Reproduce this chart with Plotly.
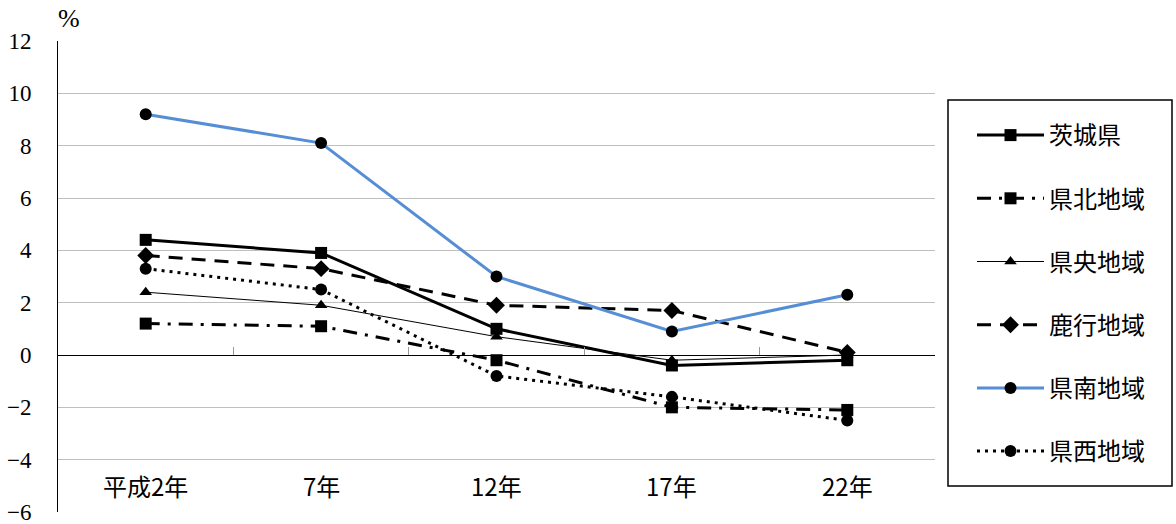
import plotly.graph_objects as go

categories = ["平成2年", "7年", "12年", "17年", "22年"]
series_names = ["茨城県", "県北地域", "県央地域", "鹿行地域", "県南地域", "県西地域"]
ibaraki = [4.4, 3.9, 1.0, -0.4, -0.2]
kenpoku = [1.2, 1.1, -0.2, -2.0, -2.1]
kenou = [2.4, 1.9, 0.7, -0.2, 0.0]
rokkou = [3.8, 3.3, 1.9, 1.7, 0.1]
kennan = [9.2, 8.1, 3.0, 0.9, 2.3]
kensei = [3.3, 2.5, -0.8, -1.6, -2.5]
y_ticks = [-6, -4, -2, 0, 2, 4, 6, 8, 10, 12]

values = [ibaraki, kenpoku, kenou, rokkou, kennan, kensei]
styles = [
    dict(color="black", width=3, dash="solid", symbol="square", size=12),
    dict(color="black", width=3, dash="14px,8px,3px,8px", symbol="square", size=12),
    dict(color="black", width=1, dash="solid", symbol="triangle-up", size=11),
    dict(color="black", width=3, dash="14px,9px", symbol="diamond", size=13),
    dict(color="#558ED5", width=3, dash="solid", symbol="circle", size=12),
    dict(color="black", width=3, dash="3px,5px", symbol="circle", size=12),
]

SERIF = "'Liberation Serif', 'DejaVu Serif', serif"
JP = "Noto Sans CJK JP"

xs = list(range(len(categories)))
fig = go.Figure()
for i, (name, vals, st) in enumerate(zip(series_names, values, styles)):
    fig.add_trace(go.Scatter(
        x=xs, y=vals, name=name, mode="lines+markers",
        legendgroup=f"g{i}",
        line=dict(color=st["color"], width=st["width"], dash=st["dash"]),
        marker=dict(symbol=st["symbol"], size=st["size"], color="black"),
    ))

# invisible trace for the crossing axis at y=0
fig.add_trace(go.Scatter(x=[None], y=[None], xaxis="x2", showlegend=False))

for i, c in enumerate(categories):
    fig.add_annotation(x=i, y=-5, xref="x", yref="y", text=c, showarrow=False,
                       font=dict(family=JP, size=24, color="black"))

fig.add_annotation(x=0, y=1.0, xref="paper", yref="paper", text="%", showarrow=False,
                   xanchor="left", yanchor="bottom", xshift=-2, yshift=6,
                   font=dict(family=SERIF, size=26, color="black"))

# legend frame
fig.add_shape(type="rect", xref="paper", yref="paper",
              x0=(948 - 58) / 877, x1=(1172 - 58) / 877,
              y0=(512 - 486) / 471, y1=(512 - 100) / 471,
              line=dict(color="black", width=1.5), fillcolor="rgba(0,0,0,0)")

fig.update_layout(
    width=1176, height=524,
    margin=dict(l=58, r=241, t=41, b=12, autoexpand=False),
    paper_bgcolor="white", plot_bgcolor="white",
    font=dict(family=SERIF, color="black"),
    xaxis=dict(range=[-0.5, 4.5], showticklabels=False, showgrid=False, zeroline=False,
               showline=False, ticks="", automargin=False),
    xaxis2=dict(range=[-0.5, 4.5], overlaying="x", anchor="free", position=1/3,
                tickmode="array", tickvals=[0.5, 1.5, 2.5, 3.5], ticks="inside",
                ticklen=8, tickcolor="#999999", showticklabels=False, showgrid=False,
                showline=True, linecolor="black", linewidth=1, zeroline=False,
                automargin=False),
    yaxis=dict(range=[-6, 12], tickmode="array", tickvals=y_ticks,
               showgrid=True, gridcolor="#BFBFBF", gridwidth=1,
               zeroline=False, showline=True, linecolor="black", linewidth=1,
               ticks="", ticklabelstandoff=21, ticklabeloverflow="allow",
               automargin=False,
               tickfont=dict(family=SERIF, size=23, color="black")),
    legend=dict(x=(972 - 58) / 877, y=(512 - 113) / 471, xanchor="left", yanchor="top",
                borderwidth=0, bgcolor="rgba(0,0,0,0)",
                font=dict(family=JP, size=24, color="black"),
                tracegroupgap=29, itemwidth=67),
    showlegend=True,
)

fig.write_html("out.html", config={"displayModeBar": False},
               post_script="document.body.style.margin='0';")
